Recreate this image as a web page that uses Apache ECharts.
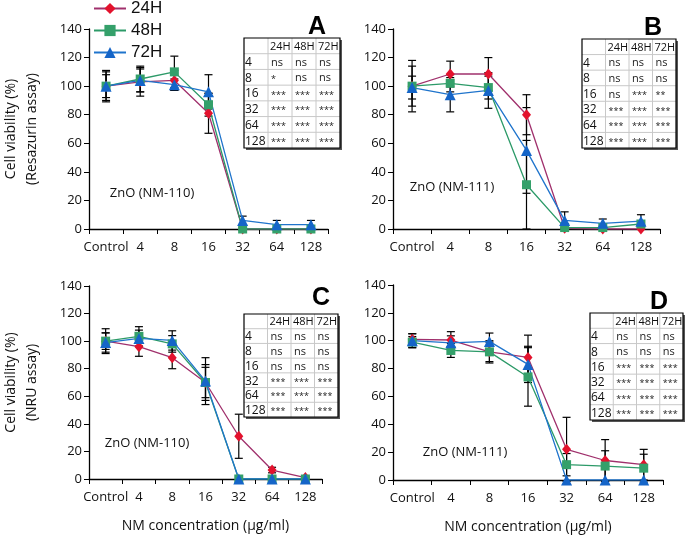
<!DOCTYPE html>
<html><head><meta charset="utf-8">
<script src="https://cdn.jsdelivr.net/npm/echarts@6/dist/echarts.min.js"></script>
<style>html,body{margin:0;padding:0;background:#fff}#c{width:688px;height:535px}</style>
</head><body><div id="c"></div>
<script>
const categories = ['Control','4','8','16','32','64','128'];
const hours = ['24H','48H','72H'];
const yTicks = [0,20,40,60,80,100,120,140];

// Panel A (Resazurin, NM-110)
const A24 = [100, 103, 104, 81, 0, 0, 0];     const A24e = [10, 10, 7, 14, 0, 0, 0];
const A48 = [100, 105, 110, 87, 0, 0, 0];     const A48e = [8, 9, 11, 8, 1, 1, 1];
const A72 = [100, 104, 101, 96, 6, 3, 3];     const A72e = [11, 8, 4, 12, 3, 3, 3];
// Panel B (Resazurin, NM-111)
const B24 = [100, 108.5, 108.5, 80, 0.5, 0, 0]; const B24e = [18, 9, 11.5, 14, 0.5, 0, 0];
const B48 = [100, 102, 99, 31, 1, 1, 3.5];     const B48e = [14, 6, 8, 31, 1, 1, 2];
const B72 = [99, 94, 97, 55, 6, 4, 5.5];       const B72e = [8, 12, 12.5, 30, 6, 3, 4.5];
// Panel C (NRU, NM-110)
const C24 = [100, 96, 88, 70, 31, 6.5, 1];     const C24e = [6, 7, 8, 11, 16, 2, 1];
const C48 = [100, 103.5, 98, 70, 0, 0, 0];     const C48e = [9, 7, 6, 13, 0, 0, 0];
const C72 = [99, 102, 100.5, 71, 0, 0, 0];     const C72e = [7, 6, 7, 17, 0, 0, 0];
// Panel D (NRU, NM-111)
const D24 = [101, 100.5, 92, 88, 22, 14, 11];  const D24e = [4, 6, 7, 16, 23, 15, 11];
const D48 = [99, 93, 92, 74, 11, 10, 8.5];     const D48e = [4, 5, 8, 21, 8, 11, 10];
const D72 = [100, 98.5, 99.5, 83, 0, 0, 0];    const D72e = [5, 5, 6, 13, 0, 0, 0];

// significance tables
const tableHeader = ['', '24H', '48H', '72H'];
const tableRows = ['4', '8', '16', '32', '64', '128'];
const sigA = [['ns','ns','ns'],['*','ns','ns'],['***','***','***'],['***','***','***'],['***','***','***'],['***','***','***']];
const sigB = [['ns','ns','ns'],['ns','ns','ns'],['ns','***','**'],['***','***','***'],['***','***','***'],['***','***','***']];
const sigC = [['ns','ns','ns'],['ns','ns','ns'],['ns','ns','ns'],['***','***','***'],['***','***','***'],['***','***','***']];
const sigD = [['ns','ns','ns'],['ns','ns','ns'],['***','***','***'],['***','***','***'],['***','***','***'],['***','***','***']];

const panelLetters = ['A','B','C','D'];
const panelLabels = ['ZnO (NM-110)','ZnO (NM-111)','ZnO (NM-110)','ZnO (NM-111)'];
const yNames = ['Cell viability (%)\n(Resazurin assay)', '', 'Cell viability (%)\n(NRU assay)', ''];
const xName = 'NM concentration (µg/ml)';

const panels = [
  {v:[A24,A48,A72], e:[A24e,A48e,A72e], sig:sigA},
  {v:[B24,B48,B72], e:[B24e,B48e,B72e], sig:sigB},
  {v:[C24,C48,C72], e:[C24e,C48e,C72e], sig:sigC},
  {v:[D24,D48,D72], e:[D24e,D48e,D72e], sig:sigD}
];

// layout
const grids = [
  {left:83, top:29, width:245, height:200},
  {left:393, top:29, width:267, height:200},
  {left:83, top:286, width:239, height:193},
  {left:393, top:285, width:270, height:195}
];
const tablePos = [
  {x:244, y:38, w:96, h:110},
  {x:582, y:39, w:94, h:109},
  {x:244, y:314, w:94, h:103},
  {x:590, y:313, w:93, h:107}
];
const letterPos = [[317,27],[653,28],[321,298],[659,302]];
const labelPos = [[152,193],[452,187],[147,443],[465,452]];

const markerColors = ['#e3122d','#34a06a','#1565c8'];
const lineColors = ['#a0306c','#2c9a68','#1f74cc'];
const symbols = ['diamond','rect','triangle'];
const symbolSizes = [[9,11],9,11];
const FONT = '"Open Sans", sans-serif';

const xAxes = [], yAxes = [], series = [], graphics = [];
grids.forEach((g, p) => {
  xAxes.push({
    gridIndex:p, type:'category', data:categories, boundaryGap:true,
    axisLine:{lineStyle:{color:'#000', width:1.3}},
    axisTick:{show:true, alignWithLabel:false, length:5, lineStyle:{color:'#000'}},
    axisLabel:{color:'#111', fontSize:13, fontFamily:FONT, margin:12, interval:0},
    name: p >= 2 ? xName : '', nameLocation:'middle', nameGap:40,
    nameTextStyle:{color:'#111', fontSize:14, fontFamily:FONT}
  });
  yAxes.push({
    gridIndex:p, type:'value', min:0, max:140, interval:20,
    axisLine:{show:true, lineStyle:{color:'#000', width:1.3}},
    axisTick:{show:true, length:5, lineStyle:{color:'#000'}},
    splitLine:{show:false},
    axisLabel:{color:'#111', fontSize:13, fontFamily:FONT, margin:7},
    name: yNames[p], nameLocation:'middle', nameRotate:90, nameGap:46,
    nameTextStyle:{color:'#111', fontSize:14, fontFamily:FONT, lineHeight:21}
  });
  const pd = panels[p];
  hours.forEach((h, k) => {
    const vals = pd.v[k], errs = pd.e[k];
    series.push({
      type:'custom', xAxisIndex:p, yAxisIndex:p, silent:true, z:1,
      data: vals.map((v,i) => [i, v - errs[i], v + errs[i]]),
      encode:{x:0, y:[1,2]},
      renderItem:(params, api) => {
        if (api.value(2) - api.value(1) <= 0) return null;
        const lo = api.coord([api.value(0), api.value(1)]);
        const hi = api.coord([api.value(0), api.value(2)]);
        const w = 4;
        const st = {stroke:'#000', lineWidth:1.2};
        return {type:'group', children:[
          {type:'line', shape:{x1:lo[0], y1:lo[1], x2:hi[0], y2:hi[1]}, style:st},
          {type:'line', shape:{x1:lo[0]-w, y1:lo[1], x2:lo[0]+w, y2:lo[1]}, style:st},
          {type:'line', shape:{x1:hi[0]-w, y1:hi[1], x2:hi[0]+w, y2:hi[1]}, style:st}
        ]};
      }
    });
    series.push({
      type:'line', name:h, xAxisIndex:p, yAxisIndex:p, z:3,
      data: vals, symbol:symbols[k], symbolSize:symbolSizes[k], showSymbol:true,
      itemStyle:{color:markerColors[k]},
      lineStyle:{color:lineColors[k], width:1.3},
      animation:false
    });
  });

  // table
  const t = tablePos[p];
  const nR = tableRows.length + 1, nC = tableHeader.length;
  const rh = t.h / nR, cw = t.w / nC;
  const children = [];
  children.push({type:'rect', shape:{x:2, y:2, width:t.w, height:t.h}, style:{fill:'#555'}});
  children.push({type:'rect', shape:{x:0, y:0, width:t.w, height:t.h}, style:{fill:'#fff'}});
  for (let r = 1; r < nR; r++) children.push({type:'line', shape:{x1:0, y1:r*rh, x2:t.w, y2:r*rh}, style:{stroke:'#c8c8c8', lineWidth:1}});
  for (let c = 1; c < nC; c++) children.push({type:'line', shape:{x1:c*cw, y1:0, x2:c*cw, y2:t.h}, style:{stroke:'#c8c8c8', lineWidth:1}});
  children.push({type:'rect', shape:{x:0, y:0, width:t.w, height:t.h}, style:{fill:null, stroke:'#000', lineWidth:1.2}});
  tableHeader.forEach((txt, c) => {
    if (txt) children.push({type:'text', style:{text:txt, x:c*cw+2, y:rh/2+1, align:'left', verticalAlign:'middle', fontSize:11, fontFamily:FONT, fill:'#111'}});
  });
  tableRows.forEach((rl, r) => {
    const y = (r+1)*rh + rh/2 + 1;
    children.push({type:'text', style:{text:rl, x:1, y:y, align:'left', verticalAlign:'middle', fontSize:12, fontFamily:FONT, fill:'#111'}});
    pd.sig[r].forEach((s, c) => {
      children.push({type:'text', style:{text:s, x:(c+1)*cw+3, y: s.startsWith('*') ? y+1 : y, align:'left', verticalAlign:'middle', fontSize: s.startsWith('*') ? 9 : 11, fontFamily:FONT, fill:'#222'}});
    });
  });
  graphics.push({type:'group', x:t.x, y:t.y, z:10, children});
  graphics.push({type:'text', x:letterPos[p][0], y:letterPos[p][1], z:10, style:{text:panelLetters[p], align:'center', verticalAlign:'middle', fontSize:25, fontWeight:'bold', fontFamily:'"Liberation Sans", Arial, sans-serif', fill:'#000'}});
  graphics.push({type:'text', x:labelPos[p][0], y:labelPos[p][1], z:10, style:{text:panelLabels[p], align:'center', verticalAlign:'middle', fontSize:13, fontFamily:FONT, fill:'#111'}});
});

const chart = echarts.init(document.getElementById('c'));
chart.setOption({
  animation:false,
  backgroundColor:'#fff',
  grid: grids,
  xAxis: xAxes,
  yAxis: yAxes,
  legend: {
    data: hours, orient:'vertical', left:93, top:0, padding:0, itemWidth:32, itemHeight:14, itemGap:5,
    textStyle:{fontSize:17, fontFamily:'"Liberation Sans", Arial, sans-serif', color:'#111'}
  },
  series: series,
  graphic: graphics
});
</script>
</body></html>
